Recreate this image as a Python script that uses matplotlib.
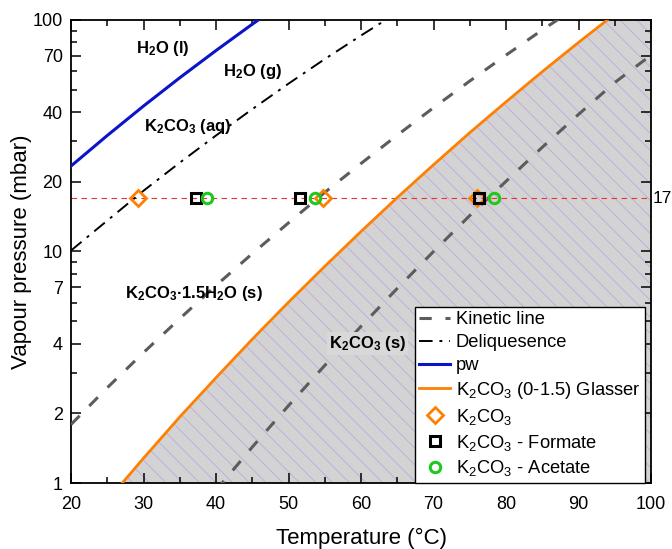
import matplotlib
matplotlib.use("Agg")
import matplotlib.pyplot as plt
import matplotlib.transforms as mtransforms
from matplotlib.ticker import NullFormatter

plt.rcParams["font.family"] = ["Liberation Sans", "DejaVu Sans"]
plt.rcParams["mathtext.fontset"] = "custom"
plt.rcParams["mathtext.rm"] = "Liberation Sans"
plt.rcParams["mathtext.it"] = "Liberation Sans:italic"
plt.rcParams["mathtext.bf"] = "Liberation Sans:bold"
plt.rcParams["hatch.linewidth"] = 0.5

# --- data ---
T_pw = [20, 25, 30, 35, 40, 45, 50]
p_pw = [23.4, 31.7, 42.5, 56.3, 73.8, 95.9, 123.5]

T_deliq = [20, 25, 30, 35, 40, 45, 50, 55, 60, 65]
p_deliq = [10.1, 13.6, 18.3, 24.2, 31.7, 41.2, 53.1, 67.8, 85.7, 107.6]

T_kin1 = [20, 25, 30, 35, 40, 45, 50, 55, 60, 65, 70, 75, 80, 85, 90]
p_kin1 = [1.79, 2.58, 3.66, 5.13, 7.13, 9.79, 13.3, 18.0, 24.0, 31.8, 41.8, 54.5, 70.5, 90.6, 115]

T_kin2 = [40, 45, 50, 55, 60, 65, 70, 75, 80, 85, 90, 95, 100]
p_kin2 = [0.93, 1.43, 2.16, 3.22, 4.75, 6.93, 10.0, 14.3, 20.1, 28.2, 39.1, 53.7, 70.5]

T_glasser = [25, 30, 35, 40, 45, 50, 55, 60, 65, 70, 75, 80, 85, 90, 95, 100]
p_glasser = [0.84, 1.28, 1.93, 2.85, 4.18, 6.04, 8.63, 12.2, 17.1, 23.7, 32.6, 44.3, 59.8, 80.0, 106, 140]

p_exp = 17
T_k2co3 = [29.2, 54.8, 76.0]
T_formate = [37.3, 51.6, 76.3]
T_acetate = [38.7, 53.7, 78.3]

y_ticks = [1, 2, 4, 7, 10, 20, 40, 70, 100]
y_minor = [3, 5, 6, 8, 9, 30, 50, 60, 80, 90]

orange = "#ff8000"
green = "#1ec81e"

fig = plt.figure(figsize=(6.72, 5.49), dpi=100)
ax = fig.add_axes([0.1057, 0.1202, 0.8631, 0.8434])

# shaded K2CO3 (s) region
ax.fill_between(T_glasser, 0.5, p_glasser, facecolor="#d3d3d3",
                edgecolor="#bc9fe4", hatch="\\\\", linewidth=0, zorder=1)

ax.plot(T_kin1, p_kin1, color="#5c5c5c", lw=2.2, dashes=(4, 4.5),
        label="Kinetic line", zorder=3)
ax.plot(T_kin2, p_kin2, color="#5c5c5c", lw=2.2, dashes=(4, 4.5), zorder=3)
ax.plot(T_deliq, p_deliq, color="black", lw=1.4, dashes=(7, 3.5, 1.5, 3.5),
        label="Deliquesence", zorder=3)
ax.plot(T_pw, p_pw, color="#0a14c8", lw=2.2, label="pw", zorder=3)
ax.plot(T_glasser, p_glasser, color=orange, lw=2.0,
        label="K$_2$CO$_3$ (0-1.5) Glasser", zorder=3)

ax.axhline(p_exp, color="#e8342a", lw=0.8, dashes=(5, 4), zorder=2)

ax.plot(T_k2co3, [p_exp] * 3, ls="none", marker="D", ms=8.5, mfc="none",
        mec=orange, mew=2, label="K$_2$CO$_3$", zorder=4)
ax.plot(T_formate, [p_exp] * 3, ls="none", marker="s", ms=7, mfc="none",
        mec="black", mew=2.2, label="K$_2$CO$_3$ - Formate", zorder=5)
ax.plot(T_acetate, [p_exp] * 3, ls="none", marker="o", ms=7.5, mfc="none",
        mec=green, mew=2.2, label="K$_2$CO$_3$ - Acetate", zorder=6)

# region labels
lab = dict(fontsize=12, fontweight="bold", ha="center", va="center", zorder=7)
ax.text(32.6, 75, r"H$_\mathbf{2}$O (l)", **lab)
ax.text(45.0, 60, r"H$_\mathbf{2}$O (g)", **lab)
ax.text(36.1, 34.5, r"K$_\mathbf{2}$CO$_\mathbf{3}$ (aq)", **lab)
ax.text(36.9, 6.6, r"K$_\mathbf{2}$CO$_\mathbf{3}$·1.5H$_\mathbf{2}$O (s)", **lab)
ax.text(60.9, 4.0, r"K$_\mathbf{2}$CO$_\mathbf{3}$ (s)",
        bbox=dict(facecolor="#d8d8d8", edgecolor="none", pad=1.5), **lab)

trans = mtransforms.blended_transform_factory(ax.transAxes, ax.transData)
ax.text(1.002, p_exp, "17", transform=trans, ha="left", va="center", fontsize=12.5)

ax.set_yscale("log")
ax.set_xlim(20, 100)
ax.set_ylim(1, 100)
ax.set_xticks(range(20, 101, 10))
ax.set_xticks(range(25, 100, 10), minor=True)
ax.set_yticks(y_ticks, labels=[str(v) for v in y_ticks])
ax.set_yticks(y_minor, minor=True)
ax.yaxis.set_minor_formatter(NullFormatter())
ax.tick_params(which="both", direction="in", top=True, right=True,
               labelsize=13, width=1.1)
ax.tick_params(which="major", length=7)
ax.tick_params(axis="x", which="major", pad=9)
ax.tick_params(axis="y", which="major", pad=6)
ax.tick_params(which="minor", length=4)
for s in ax.spines.values():
    s.set_linewidth(1.3)

ax.set_xlabel("Temperature (°C)", fontsize=16, labelpad=11)
ax.set_ylabel("Vapour pressure (mbar)", fontsize=16, labelpad=0)

leg = ax.legend(loc="lower right", bbox_to_anchor=(0.99, 0.0), borderaxespad=0,
                fontsize=13.2, frameon=True, fancybox=False, framealpha=1,
                edgecolor="black", handlelength=1.7, handletextpad=0.3,
                labelspacing=0.32, borderpad=0.25)
leg.get_frame().set_linewidth(1.0)
leg.set_zorder(10)

fig.savefig("out.png", dpi=100)
